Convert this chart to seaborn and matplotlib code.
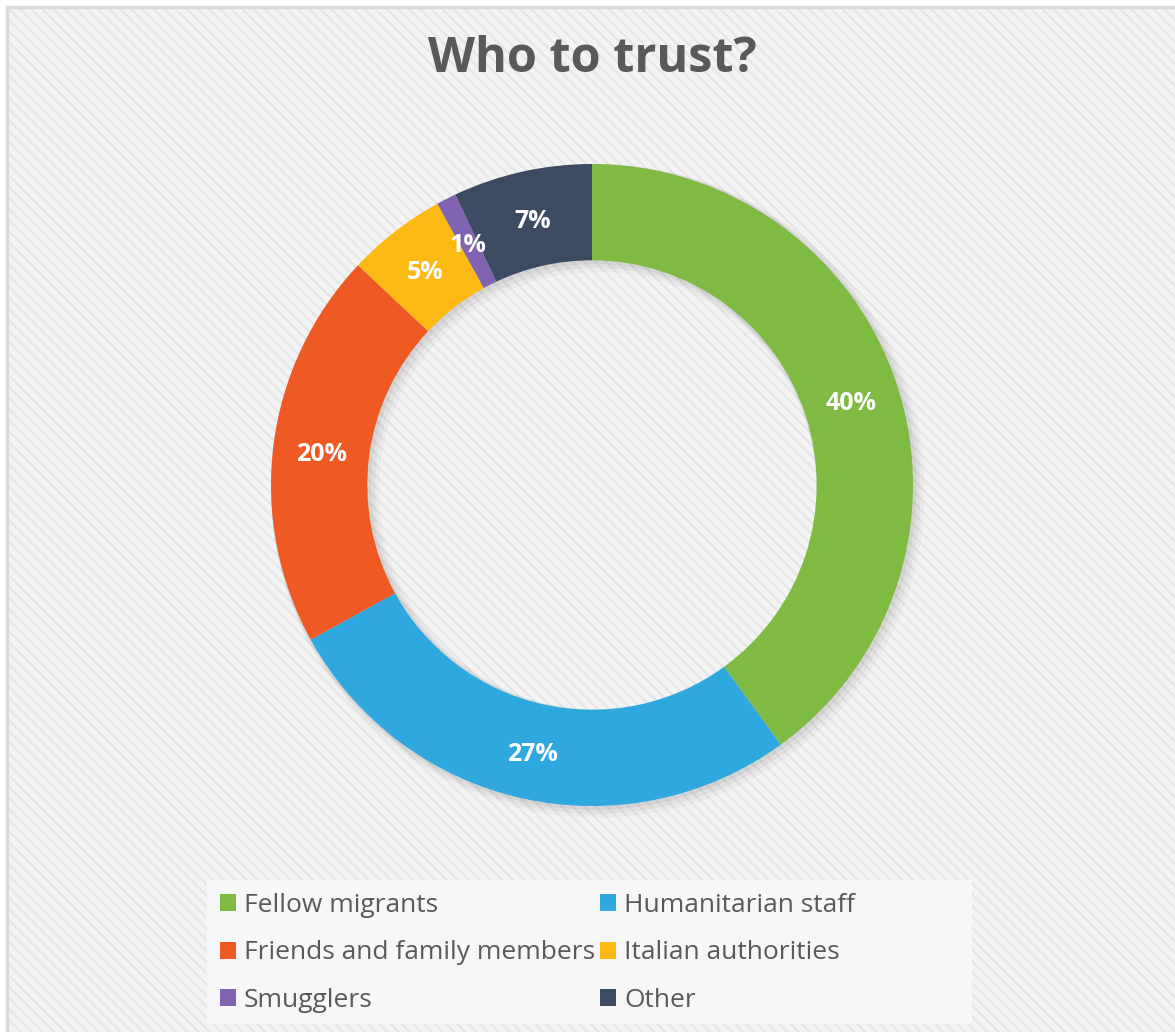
import numpy as np
import pandas as pd
import seaborn as sns
import matplotlib.pyplot as plt
from matplotlib.patches import Rectangle, Patch

categories = ["Fellow migrants", "Humanitarian staff", "Friends and family members",
              "Italian authorities", "Smugglers", "Other"]
shares = [40, 27, 20, 5, 1, 7]
labels = ["40%", "27%", "20%", "5%", "1%", "7%"]
colors = ["#7FBA42", "#2FA8E0", "#EF5A24", "#FDB913", "#8064B2", "#3D4B62"]

sns.set_theme(style="white")
plt.rcParams['font.family'] = ['Open Sans', 'DejaVu Sans']
plt.rcParams['hatch.linewidth'] = 1.6
plt.rcParams['hatch.color'] = '#e8e8e8'

df = pd.DataFrame({"source": categories, "share": shares})

W, H = 1175, 1032
fig = plt.figure(figsize=(W / 100, H / 100), dpi=100)
fig.patch.set_facecolor('white')

# striped chart background with a thin border (runs off the right and bottom edges)
fig.patches.append(Rectangle((7 / W, -0.1), 1.2, 1.1 - 7 / H, transform=fig.transFigure,
                             facecolor='#f3f3f3', edgecolor='#e6e6e6', hatch='\\\\\\',
                             linewidth=0, zorder=-3))
fig.patches.append(Rectangle((7 / W, -0.1), 1.2, 1.1 - 7 / H, transform=fig.transFigure,
                             facecolor='none', edgecolor='#d9d9d9', linewidth=2.5, zorder=-2))
# plain legend panel
fig.patches.append(Rectangle((207 / W, 1 - 1024 / H), 765 / W, 144 / H,
                             transform=fig.transFigure, facecolor='#f7f7f7',
                             edgecolor='none', zorder=-1))

fig.text(592 / W, 1 - 59 / H, "Who to trust?", ha='center', va='center',
         fontsize=35, fontweight='bold', color='#595959')

cx, cy, r = 592, 485, 321
pad = 1.05
ax = fig.add_axes([(cx - r * pad) / W, 1 - (cy + r * pad) / H,
                   2 * r * pad / W, 2 * r * pad / H])
ax.set_zorder(2)
ax.patch.set_alpha(0)

# soft shadow
for k, a in enumerate([0.05, 0.04, 0.03]):
    off = 0.006 * (k + 1)
    ax.pie([1], radius=1.0 + off, colors=['#000000'], center=(off, -off),
           wedgeprops=dict(width=0.30 + 2 * off, alpha=a, linewidth=0), startangle=90)

wedges, _ = ax.pie(df["share"], colors=colors, startangle=90, counterclock=False,
                   radius=1.0, wedgeprops=dict(width=0.30, linewidth=0))

for w, lab in zip(wedges, labels):
    ang = np.deg2rad((w.theta1 + w.theta2) / 2)
    ax.text(0.85 * np.cos(ang), 0.85 * np.sin(ang) - 0.01, lab, ha='center', va='center',
            fontsize=18, fontweight='bold', color='white')

ax.set_xlim(-pad, pad)
ax.set_ylim(-pad, pad)
ax.set_aspect('equal')
ax.set_axis_off()

order = [0, 2, 4, 1, 3, 5]
handles = [Patch(facecolor=colors[i], edgecolor='none') for i in order]
leg = fig.legend(handles, [categories[i] for i in order], ncol=2,
                 loc='upper left', bbox_to_anchor=(220 / W, 1 - 893 / H),
                 frameon=False, fontsize=19, handlelength=0.6,
                 handleheight=0.6, handletextpad=0.3, columnspacing=0.2,
                 labelspacing=0.85, borderpad=0.0, borderaxespad=0.0,
                 labelcolor='#595959')
leg.set_zorder(3)

fig.savefig("out.png", dpi=100)
